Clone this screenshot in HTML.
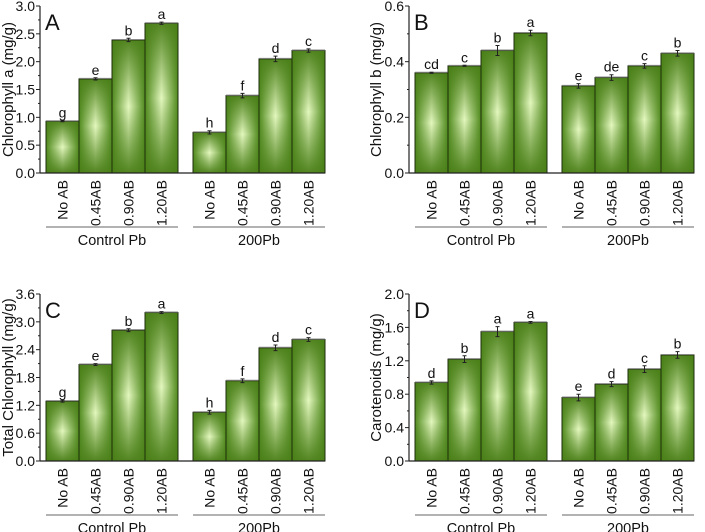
<!DOCTYPE html>
<html><head><meta charset="utf-8"><style>
body{margin:0;background:#fff;}
svg{display:block;font-family:"Liberation Sans",Arial,sans-serif;}
</style></head><body>
<svg id="c" width="705" height="532">
<defs>
<linearGradient id="gh" x1="0" x2="1" y1="0" y2="0">
<stop offset="0" stop-color="#4f8a1c"/><stop offset="0.5" stop-color="#e4f8bf"/><stop offset="1" stop-color="#4f8a1c"/>
</linearGradient>
<linearGradient id="gv" x1="0" x2="0" y1="0" y2="1">
<stop offset="0" stop-color="#4a7f18" stop-opacity="0.95"/><stop offset="0.5" stop-color="#4a7f18" stop-opacity="0"/><stop offset="1" stop-color="#4a7f18" stop-opacity="0.95"/>
</linearGradient>
</defs>
</svg>
<script>
const cats=["No AB","0.45AB","0.90AB","1.20AB"];
const groups=["Control Pb","200Pb"];
const aCtrl=[0.93,1.69,2.39,2.69], aPb=[0.73,1.39,2.05,2.20];
const aErrC=[0.01,0.02,0.03,0.02], aErrP=[0.03,0.04,0.05,0.03];
const aLetC=["g","e","b","a"], aLetP=["h","f","d","c"];
const bCtrl=[0.36,0.385,0.44,0.503], bPb=[0.313,0.343,0.385,0.43];
const bErrC=[0.002,0.002,0.018,0.01], bErrP=[0.008,0.01,0.008,0.01];
const bLetC=["cd","c","b","a"], bLetP=["e","de","c","b"];
const cCtrl=[1.29,2.08,2.82,3.20], cPb=[1.05,1.73,2.44,2.62];
const cErrC=[0.02,0.02,0.03,0.02], cErrP=[0.04,0.04,0.06,0.04];
const cLetC=["g","e","b","a"], cLetP=["h","f","d","c"];
const dCtrl=[0.94,1.22,1.55,1.66], dPb=[0.76,0.92,1.10,1.27];
const dErrC=[0.02,0.04,0.06,0.01], dErrP=[0.04,0.03,0.04,0.04];
const dLetC=["d","b","a","a"], dLetP=["e","d","c","b"];
const aTicks=["0.0","0.5","1.0","1.5","2.0","2.5","3.0"];
const bTicks=["0.0","0.2","0.4","0.6"];
const cTicks=["0.0","0.6","1.2","1.8","2.4","3.0","3.6"];
const dTicks=["0.0","0.4","0.8","1.2","1.6","2.0"];

const svg=document.getElementById('c');
const NS="http://www.w3.org/2000/svg";
function el(t,a,p){const e=document.createElementNS(NS,t);for(const k in a)e.setAttribute(k,a[k]);(p||svg).appendChild(e);return e;}

function panel(o){
  const g=el('g',{});
  
  
  const ax=o.ax, top=o.top, bot=o.top+167, max=parseFloat(o.ticks[o.ticks.length-1]);
  const y=v=>bot-(v/max)*(bot-top);
  const bw=33;
  const starts=[ax+6, ax+153];
  const series=[[o.c,o.ec,o.lc],[o.p,o.ep,o.lp]];
  series.forEach((s,gi)=>{
    s[0].forEach((v,i)=>{
      const x=starts[gi]+i*bw;
      const r1=el('rect',{x:x,y:y(v),width:bw,height:bot-y(v),fill:'url(#gh)'},g);
      
      
      el('rect',{x:x,y:y(v),width:bw,height:bot-y(v),fill:'url(#gv)',stroke:'#1e2e0c','stroke-width':1},g);
      el('line',{x1:x,x2:x+bw,y1:y(v)-0.5,y2:y(v)-0.5,stroke:'#888','stroke-width':1},g);
      const cx=x+bw/2, e=s[1][i];
      el('path',{d:`M${cx},${y(v+e)}V${y(v-e)}M${cx-2},${y(v+e)}H${cx+2}M${cx-2},${y(v-e)}H${cx+2}`,stroke:'#222','stroke-width':1,fill:'none'},g);
      const t=el('text',{x:cx,y:y(v+e)-3,'text-anchor':'middle','font-size':14,fill:'#111'},g);
      t.textContent=s[2][i];
      
      
      const ct=el('text',{x:cx+5,y:bot+7,'text-anchor':'end','font-size':14,fill:'#111',transform:`rotate(-90 ${cx+5} ${bot+7})`},g);
      ct.textContent=cats[i];
      
      
    });
    el('line',{x1:starts[gi],x2:starts[gi]+4*bw,y1:bot+54,y2:bot+54,stroke:'#999','stroke-width':1.5},g);
    const gt=el('text',{x:starts[gi]+2*bw,y:bot+72,'text-anchor':'middle','font-size':14.5,fill:'#111'},g);
    gt.textContent=groups[gi];
    
    
  });
  el('line',{x1:ax,x2:ax,y1:top,y2:bot,stroke:'#222','stroke-width':1.2},g);
  el('line',{x1:ax,x2:starts[1]+4*bw,y1:bot,y2:bot,stroke:'#222','stroke-width':1.2},g);
  const n=o.ticks.length-1;
  for(let i=0;i<=n;i++){
    const v=parseFloat(o.ticks[i]);
    el('line',{x1:ax-4,x2:ax,y1:y(v),y2:y(v),stroke:'#222','stroke-width':1},g);
    if(i<n){const m=y(v+max/n/2);el('line',{x1:ax-2,x2:ax,y1:m,y2:m,stroke:'#222','stroke-width':1},g);}
    const t=el('text',{x:ax-5,y:y(v)+5,'text-anchor':'end','font-size':14,fill:'#111'},g);
    t.textContent=o.ticks[i];
    
    
  }
  const tx=o.titleX, ty=(top+bot)/2;
  const yt=el('text',{x:tx,y:ty,'text-anchor':'middle','font-size':15,fill:'#111',transform:`rotate(-90 ${tx} ${ty})`},g);
  yt.textContent=o.title;
  
  
  const L=el('text',{x:ax+5,y:top+24,'font-size':22,fill:'#111'},g);
  L.textContent=o.letter;
  
  
}
panel({letter:'A',ax:40,top:6,ticks:aTicks,c:aCtrl,p:aPb,ec:aErrC,ep:aErrP,lc:aLetC,lp:aLetP,title:'Chlorophyll  a (mg/g)',titleX:13});
panel({letter:'B',ax:409,top:6,ticks:bTicks,c:bCtrl,p:bPb,ec:bErrC,ep:bErrP,lc:bLetC,lp:bLetP,title:'Chlorophyll  b (mg/g)',titleX:381});
panel({letter:'C',ax:40,top:294,ticks:cTicks,c:cCtrl,p:cPb,ec:cErrC,ep:cErrP,lc:cLetC,lp:cLetP,title:'Total Chlorophyll  (mg/g)',titleX:13});
panel({letter:'D',ax:409,top:294,ticks:dTicks,c:dCtrl,p:dPb,ec:dErrC,ep:dErrP,lc:dLetC,lp:dLetP,title:'Carotenoids (mg/g)',titleX:381});
</script>
</body></html>
